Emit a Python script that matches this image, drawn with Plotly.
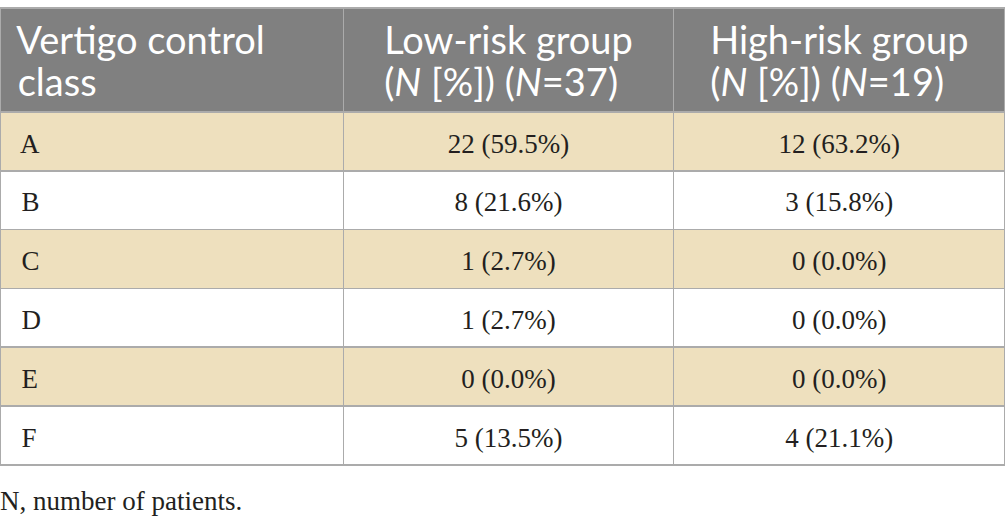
import plotly.graph_objects as go

# table content
header_labels = [["Vertigo control", "class"],
                 ["Low-risk group", "(<i>N</i> [%]) (<i>N</i>=37)"],
                 ["High-risk group", "(<i>N</i> [%]) (<i>N</i>=19)"]]
classes = ["A", "B", "C", "D", "E", "F"]
low_counts = [22, 8, 1, 1, 0, 5]
low_pct = ["59.5", "21.6", "2.7", "2.7", "0.0", "13.5"]
high_counts = [12, 3, 0, 0, 0, 4]
high_pct = ["63.2", "15.8", "0.0", "0.0", "0.0", "21.1"]
footnote = "N, number of patients."

HEADER_BG = "#808080"
TAN = "#EEE0BE"
GRID = "#ABABAB"
INK = "#231f20"

# plotly tables pin text to the top of a cell: the cell font size sets the
# line spacing, the span sets the glyph size, and body labels get a blank
# first line so the real text sits in the middle of the row
def head(lines, indent=""):
    return "<br>".join("<span style='font-size:38px'>" + indent + l + "</span>" for l in lines)

def body(txt):
    return "\u00a0<br><span style='font-size:27px'>" + txt + "</span>"

low_col = [body("{0} ({1}%)".format(c, p)) for c, p in zip(low_counts, low_pct)]
high_col = [body("{0} ({1}%)".format(c, p)) for c, p in zip(high_counts, high_pct)]
class_col = [body("  " + c) for c in classes]

row_fill = [TAN if i % 2 == 0 else "white" for i in range(len(classes))]

fig = go.Figure()
fig.add_trace(go.Table(
    columnwidth=[343, 330, 331],
    domain=dict(x=[0, 1], y=[0, 1 - 8 / 521]),
    header=dict(
        values=[head(header_labels[0], " "), head(header_labels[1]), head(header_labels[2])],
        fill_color=HEADER_BG,
        line=dict(color=GRID, width=1.5),
        align=["left", "center", "center"],
        font=dict(family="Lato", size=32, color="white"),
        height=104,
    ),
    cells=dict(
        values=[class_col, low_col, high_col],
        fill_color=[row_fill, row_fill, row_fill],
        line=dict(color=GRID, width=1.5),
        align=["left", "center", "center"],
        font=dict(family="Liberation Serif", size=15, color=INK),
        height=58.8,
    ),
))

fig.add_annotation(text=footnote, x=0, y=(521 - 501) / 521, xref="paper", yref="paper",
                   xanchor="left", yanchor="middle", xshift=-2, showarrow=False,
                   font=dict(family="Liberation Serif", size=27, color=INK))

fig.update_layout(width=1005, height=521, margin=dict(l=0, r=0, t=0, b=0),
                  paper_bgcolor="white", plot_bgcolor="white")

# drop the default 8px page margin so the figure sits at the window corner
fig.write_html("out.html", config={"displayModeBar": False},
               post_script="document.body.style.margin='0';")
